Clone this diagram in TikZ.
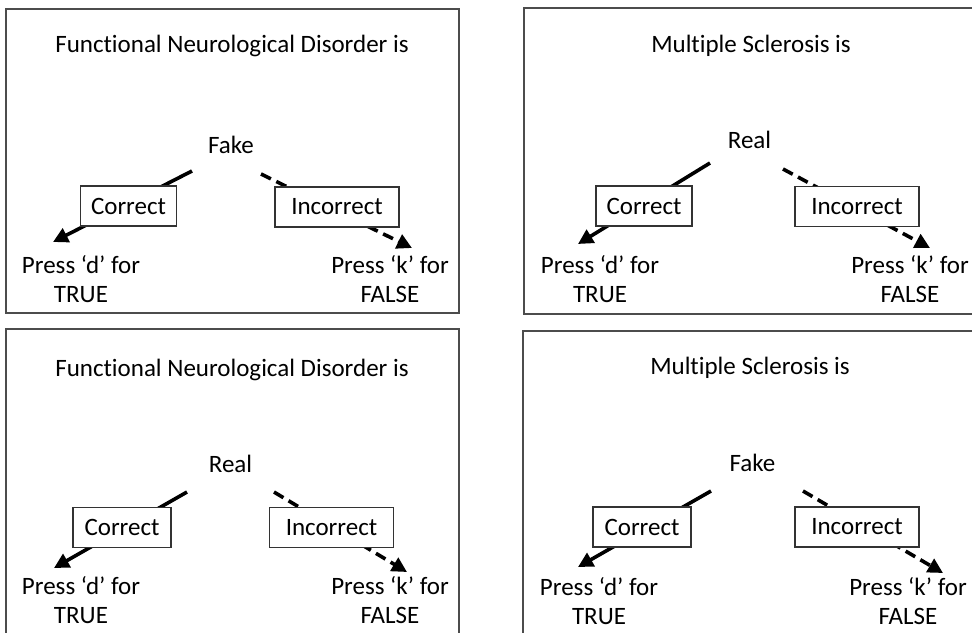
\documentclass[tikz,border=0pt]{standalone}
\usepackage{fontspec}
\setmainfont[Ligatures=NoCommon]{Carlito}
\usetikzlibrary{arrows.meta}
\tikzset{
    panel/.style={draw=black!70, line width=1.4pt},
    label/.style={inner sep=0pt, font=\fontsize{25pt}{29pt}\selectfont, align=center},
    answer/.style={label, draw=black!80, fill=white, line width=1.2pt, minimum height=40pt},
    corrbox/.style={answer, minimum width=96pt},
    incbox/.style={answer, minimum width=124pt},
    yes/.style={line width=3.6pt, -{Triangle[length=15pt,width=15pt]}},
    no/.style={yes, dash pattern=on 11pt off 6pt}
}
\begin{document}
\begin{tikzpicture}[x=1pt,y=-1pt]
    \clip (0,0) rectangle (972,632);
    \fill [white] (0,0) rectangle (972,632);
    % top left
    \draw [panel] (6,9) rectangle (459,313);
    \node [label] (t1) at (232,46) {Functional Neurological Disorder is};
    \node [label] (m1) at (231,145) {Fake};
    \node [label] (d1) at (81,279.5) {Press ‘d’ for\\TRUE};
    \node [label] (k1) at (390,279.5) {Press ‘k’ for\\FALSE};
    \coordinate (a1) at (192,171);
    \coordinate (b1) at (53,242);
    \coordinate (c1) at (261,174);
    \coordinate (e1) at (412,248);
    \draw [yes] (a1) -- (b1);
    \draw [no] (c1) -- (e1);
    \node [corrbox] (r1) at (128.5,206) {Correct};
    \node [incbox] (w1) at (337,207) {Incorrect};
    % top right
    \draw [panel] (524,8) rectangle (990,314);
    \node [label] (t2) at (751,46) {Multiple Sclerosis is};
    \node [label] (m2) at (749.5,140) {Real};
    \node [label] (d2) at (600,279.5) {Press ‘d’ for\\TRUE};
    \node [label] (k2) at (910,279.5) {Press ‘k’ for\\FALSE};
    \coordinate (a2) at (710,163);
    \coordinate (b2) at (578,244);
    \coordinate (c2) at (783,169);
    \coordinate (e2) at (930,248);
    \draw [yes] (a2) -- (b2);
    \draw [no] (c2) -- (e2);
    \node [corrbox] (r2) at (644,206) {Correct};
    \node [incbox] (w2) at (857,206.5) {Incorrect};
    % bottom left
    \draw [panel] (6,329) rectangle (459,650);
    \node [label] (t3) at (232,370) {Functional Neurological Disorder is};
    \node [label] (m3) at (230.5,464) {Real};
    \node [label] (d3) at (81,600) {Press ‘d’ for\\TRUE};
    \node [label] (k3) at (390,600.5) {Press ‘k’ for\\FALSE};
    \coordinate (a3) at (187,492);
    \coordinate (b3) at (54,568);
    \coordinate (c3) at (274,492);
    \coordinate (e3) at (407,572);
    \draw [yes] (a3) -- (b3);
    \draw [no] (c3) -- (e3);
    \node [corrbox, minimum width=98pt] (r3) at (122,527.5) {Correct};
    \node [incbox] (w3) at (331.5,527.5) {Incorrect};
    % bottom right
    \draw [panel] (523,331) rectangle (990,650);
    \node [label] (t4) at (750,368) {Multiple Sclerosis is};
    \node [label] (m4) at (752.5,463) {Fake};
    \node [label] (d4) at (599,601.5) {Press ‘d’ for\\TRUE};
    \node [label] (k4) at (908,601.5) {Press ‘k’ for\\FALSE};
    \coordinate (a4) at (711,491);
    \coordinate (b4) at (578,567);
    \coordinate (c4) at (803,491);
    \coordinate (e4) at (943,573);
    \draw [yes] (a4) -- (b4);
    \draw [no] (c4) -- (e4);
    \node [corrbox, minimum width=98pt] (r4) at (642,527) {Correct};
    \node [incbox] (w4) at (857,527) {Incorrect};
\end{tikzpicture}
\end{document}
